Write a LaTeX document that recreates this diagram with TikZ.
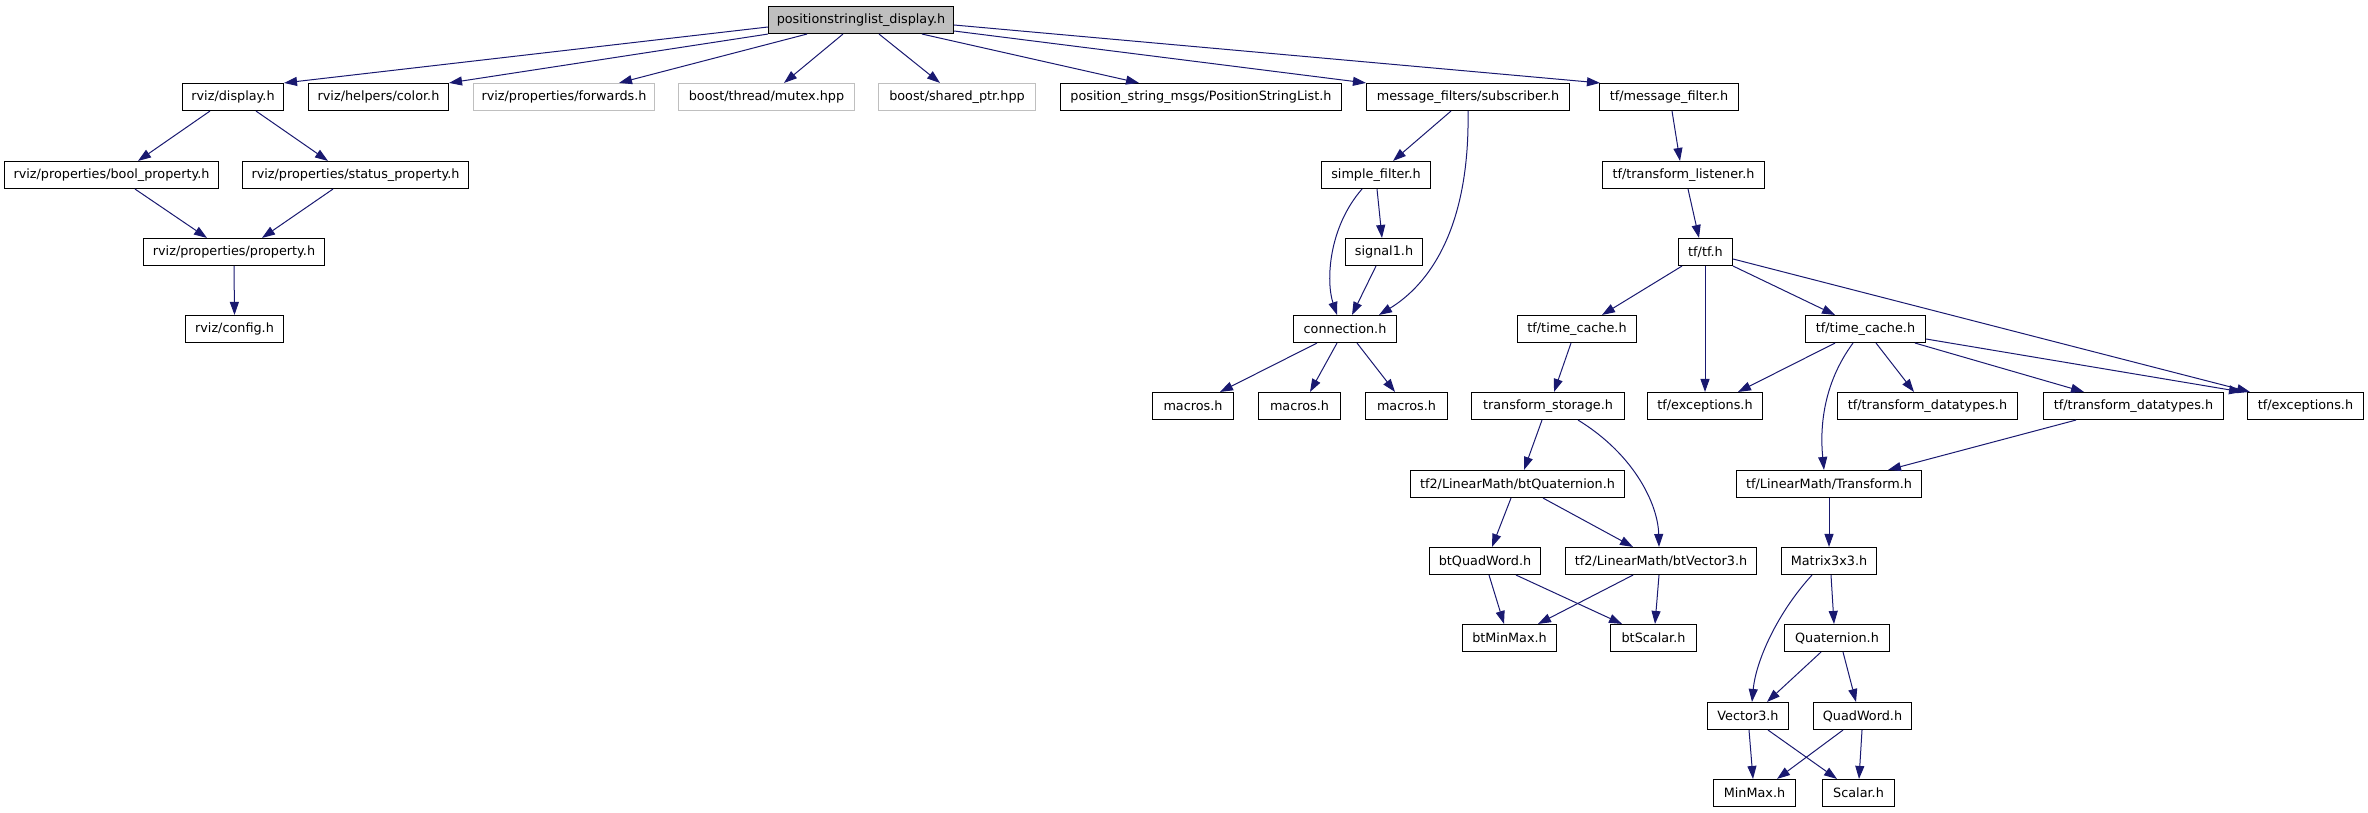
\documentclass[tikz,border=0pt]{standalone}
\usepackage{fontspec}
\setmainfont{DejaVu Sans}
\usetikzlibrary{arrows.meta}
\definecolor{edgec}{HTML}{191970}
\definecolor{lgray}{HTML}{BFBFBF}
\tikzset{
  box/.style={draw=black,line width=1.1pt,fill=white,minimum height=27pt,inner sep=0pt,
    font=\fontsize{12.8}{14}\selectfont},
  graybox/.style={draw=lgray},
  topbox/.style={fill=lgray},
  edge/.style={draw=edgec,line width=1pt,-{Triangle[length=13pt,width=9pt,fill=edgec]}}
}
\newcommand\mknode[6][]{\node[box,minimum width=#4pt,#1] (#2) at (#3,#5) {#6};}
\begin{document}
\begin{tikzpicture}[x=1pt,y=-1pt]
\useasboundingbox (0,0) rectangle (2368,813);
% row 0
\mknode[topbox]{top}{861}{185}{20}{positionstringlist\_display.h}
% row 1
\mknode{display}{233}{101}{97}{rviz/display.h}
\mknode{color}{378.5}{140}{97}{rviz/helpers/color.h}
\mknode[graybox]{forwards}{564}{181}{97}{rviz/properties/forwards.h}
\mknode[graybox]{mutex}{766.5}{176}{97}{boost/thread/mutex.hpp}
\mknode[graybox]{sharedptr}{957}{157}{97}{boost/shared\_ptr.hpp}
\mknode{psl}{1201}{281}{97}{position\_string\_msgs/PositionStringList.h}
\mknode{subscriber}{1468}{203}{97}{message\_filters/subscriber.h}
\mknode{msgfilter}{1669}{139}{97}{tf/message\_filter.h}
% row 2
\mknode{boolp}{111.5}{214}{175}{rviz/properties/bool\_property.h}
\mknode{statusp}{355.5}{226}{175}{rviz/properties/status\_property.h}
\mknode{simplefilter}{1376}{109}{175}{simple\_filter.h}
\mknode{tflistener}{1683.5}{162}{175}{tf/transform\_listener.h}
% row 3
\mknode{property}{234}{181}{252}{rviz/properties/property.h}
\mknode{signal1}{1384}{77}{252}{signal1.h}
\mknode{tftf}{1705.5}{54}{252}{tf/tf.h}
% row 4
\mknode{config}{234.5}{98}{329}{rviz/config.h}
\mknode{connection}{1345}{103}{329}{connection.h}
\mknode{timecacheA}{1577}{119}{329}{tf/time\_cache.h}
\mknode{timecacheB}{1865.5}{120}{329}{tf/time\_cache.h}
% row 5
\mknode{macrosA}{1193}{81}{406}{macros.h}
\mknode{macrosB}{1299.5}{82}{406}{macros.h}
\mknode{macrosC}{1406.5}{82}{406}{macros.h}
\mknode{tstorage}{1548}{153}{406}{transform\_storage.h}
\mknode{excA}{1705}{115}{406}{tf/exceptions.h}
\mknode{tdtA}{1927.5}{180}{406}{tf/transform\_datatypes.h}
\mknode{tdtB}{2133.5}{180}{406}{tf/transform\_datatypes.h}
\mknode{excB}{2305.5}{116}{406}{tf/exceptions.h}
% row 6
\mknode{btquat}{1517.5}{214}{484}{tf2/LinearMath/btQuaternion.h}
\mknode{transform}{1829}{185}{484}{tf/LinearMath/Transform.h}
% row 7
\mknode{btquadword}{1485}{111}{561}{btQuadWord.h}
\mknode{btvector}{1661}{191}{561}{tf2/LinearMath/btVector3.h}
\mknode{matrix}{1829}{95}{561}{Matrix3x3.h}
% row 8
\mknode{btminmax}{1509.5}{94}{638}{btMinMax.h}
\mknode{btscalar}{1653.5}{86}{638}{btScalar.h}
\mknode{quaternion}{1837}{105}{638}{Quaternion.h}
% row 9
\mknode{vector}{1748}{81}{716}{Vector3.h}
\mknode{quadword}{1862.5}{98}{716}{QuadWord.h}
% row 10
\mknode{minmax}{1754.5}{82}{793}{MinMax.h}
\mknode{scalar}{1858.5}{72}{793}{Scalar.h}

% edges from top
\draw[edge] ([yshift=-7pt]top.west) -- (display.north east);
\draw[edge] (top.south west) -- (color.north east);
\draw[edge] (807,0 |- top.south) -- (619,0 |- forwards.north);
\draw[edge] (843,0 |- top.south) -- (784,0 |- mutex.north);
\draw[edge] (879,0 |- top.south) -- (940,0 |- sharedptr.north);
\draw[edge] (922,0 |- top.south) -- (1139,0 |- psl.north);
\draw[edge] ([yshift=-11pt]top.east) -- (subscriber.north west);
\draw[edge] ([yshift=-5pt]top.east) -- ([xshift=1pt]msgfilter.north west);
% rviz
\draw[edge] (210,0 |- display.south) -- (138,0 |- boolp.north);
\draw[edge] (256,0 |- display.south) -- (328,0 |- statusp.north);
\draw[edge] (135,0 |- boolp.south) -- (207,0 |- property.north);
\draw[edge] (333,0 |- statusp.south) -- (262,0 |- property.north);
\draw[edge] (property.south) -- (config.north);
% message filters
\draw[edge] (1451,0 |- subscriber.south) -- (1393,0 |- simplefilter.north);
\draw[edge] (subscriber.south) .. controls (1470,230) and (1428,285) .. (1379,0 |- connection.north);
\draw[edge] (1377,0 |- simplefilter.south) -- (1382,0 |- signal1.north);
\draw[edge] (1362,0 |- simplefilter.south) .. controls (1328,228) and (1326,282) .. (1337,0 |- connection.north);
\draw[edge] (1376,0 |- signal1.south) -- (1352,0 |- connection.north);
\draw[edge] (1317,0 |- connection.south) -- (1220,0 |- macrosA.north);
\draw[edge] (1337,0 |- connection.south) -- (1310,0 |- macrosB.north);
\draw[edge] (1357,0 |- connection.south) -- (1395,0 |- macrosC.north);
% tf
\draw[edge] (1672,0 |- msgfilter.south) -- (1680,0 |- tflistener.north);
\draw[edge] (1688,0 |- tflistener.south) -- (1699,0 |- tftf.north);
\draw[edge] (1682,0 |- tftf.south) -- (1602,0 |- timecacheA.north);
\draw[edge] (1705,0 |- tftf.south) -- (1705,0 |- excA.north);
\draw[edge] (tftf.south east) -- (1835,0 |- timecacheB.north);
\draw[edge] ([yshift=-7pt]tftf.east) -- (2250,0 |- excB.north);
\draw[edge] (1571,0 |- timecacheA.south) -- (1554,0 |- tstorage.north);
\draw[edge] (1835,0 |- timecacheB.south) -- (1738,0 |- excA.north);
\draw[edge] (1853,0 |- timecacheB.south) .. controls (1822,385) and (1820,430) .. (1824,0 |- transform.north);
\draw[edge] (1876,0 |- timecacheB.south) -- (1914,0 |- tdtA.north);
\draw[edge] (1915,0 |- timecacheB.south) -- (2084,0 |- tdtB.north);
\draw[edge] ([yshift=-10pt]timecacheB.east) -- (2242,0 |- excB.north);
\draw[edge] (2076,0 |- tdtB.south) -- (1888,0 |- transform.north);
% tf2 linear math
\draw[edge] (1542,0 |- tstorage.south) -- (1524,0 |- btquat.north);
\draw[edge] (1578,0 |- tstorage.south) .. controls (1635,455) and (1658,505) .. (1659,0 |- btvector.north);
\draw[edge] (1511,0 |- btquat.south) -- (1492,0 |- btquadword.north);
\draw[edge] (1543,0 |- btquat.south) -- (1633,0 |- btvector.north);
\draw[edge] (1489,0 |- btquadword.south) -- (1504,0 |- btminmax.north);
\draw[edge] (1516,0 |- btquadword.south) -- (1622,0 |- btscalar.north);
\draw[edge] (1633,0 |- btvector.south) -- (1538,0 |- btminmax.north);
\draw[edge] (1659,0 |- btvector.south) -- (1655,0 |- btscalar.north);
% tf linear math
\draw[edge] (transform.south) -- (matrix.north);
\draw[edge] (1812,0 |- matrix.south) .. controls (1778,612) and (1756,660) .. (1752,0 |- vector.north);
\draw[edge] (1831,0 |- matrix.south) -- (1834,0 |- quaternion.north);
\draw[edge] (1821,0 |- quaternion.south) -- (1767,0 |- vector.north);
\draw[edge] (1843,0 |- quaternion.south) -- (1856,0 |- quadword.north);
\draw[edge] (1749,0 |- vector.south) -- (1753,0 |- minmax.north);
\draw[edge] (1768,0 |- vector.south) -- (1837,0 |- scalar.north);
\draw[edge] (1843,0 |- quadword.south) -- (1777,0 |- minmax.north);
\draw[edge] (1862,0 |- quadword.south) -- (1859,0 |- scalar.north);
\end{tikzpicture}
\end{document}
